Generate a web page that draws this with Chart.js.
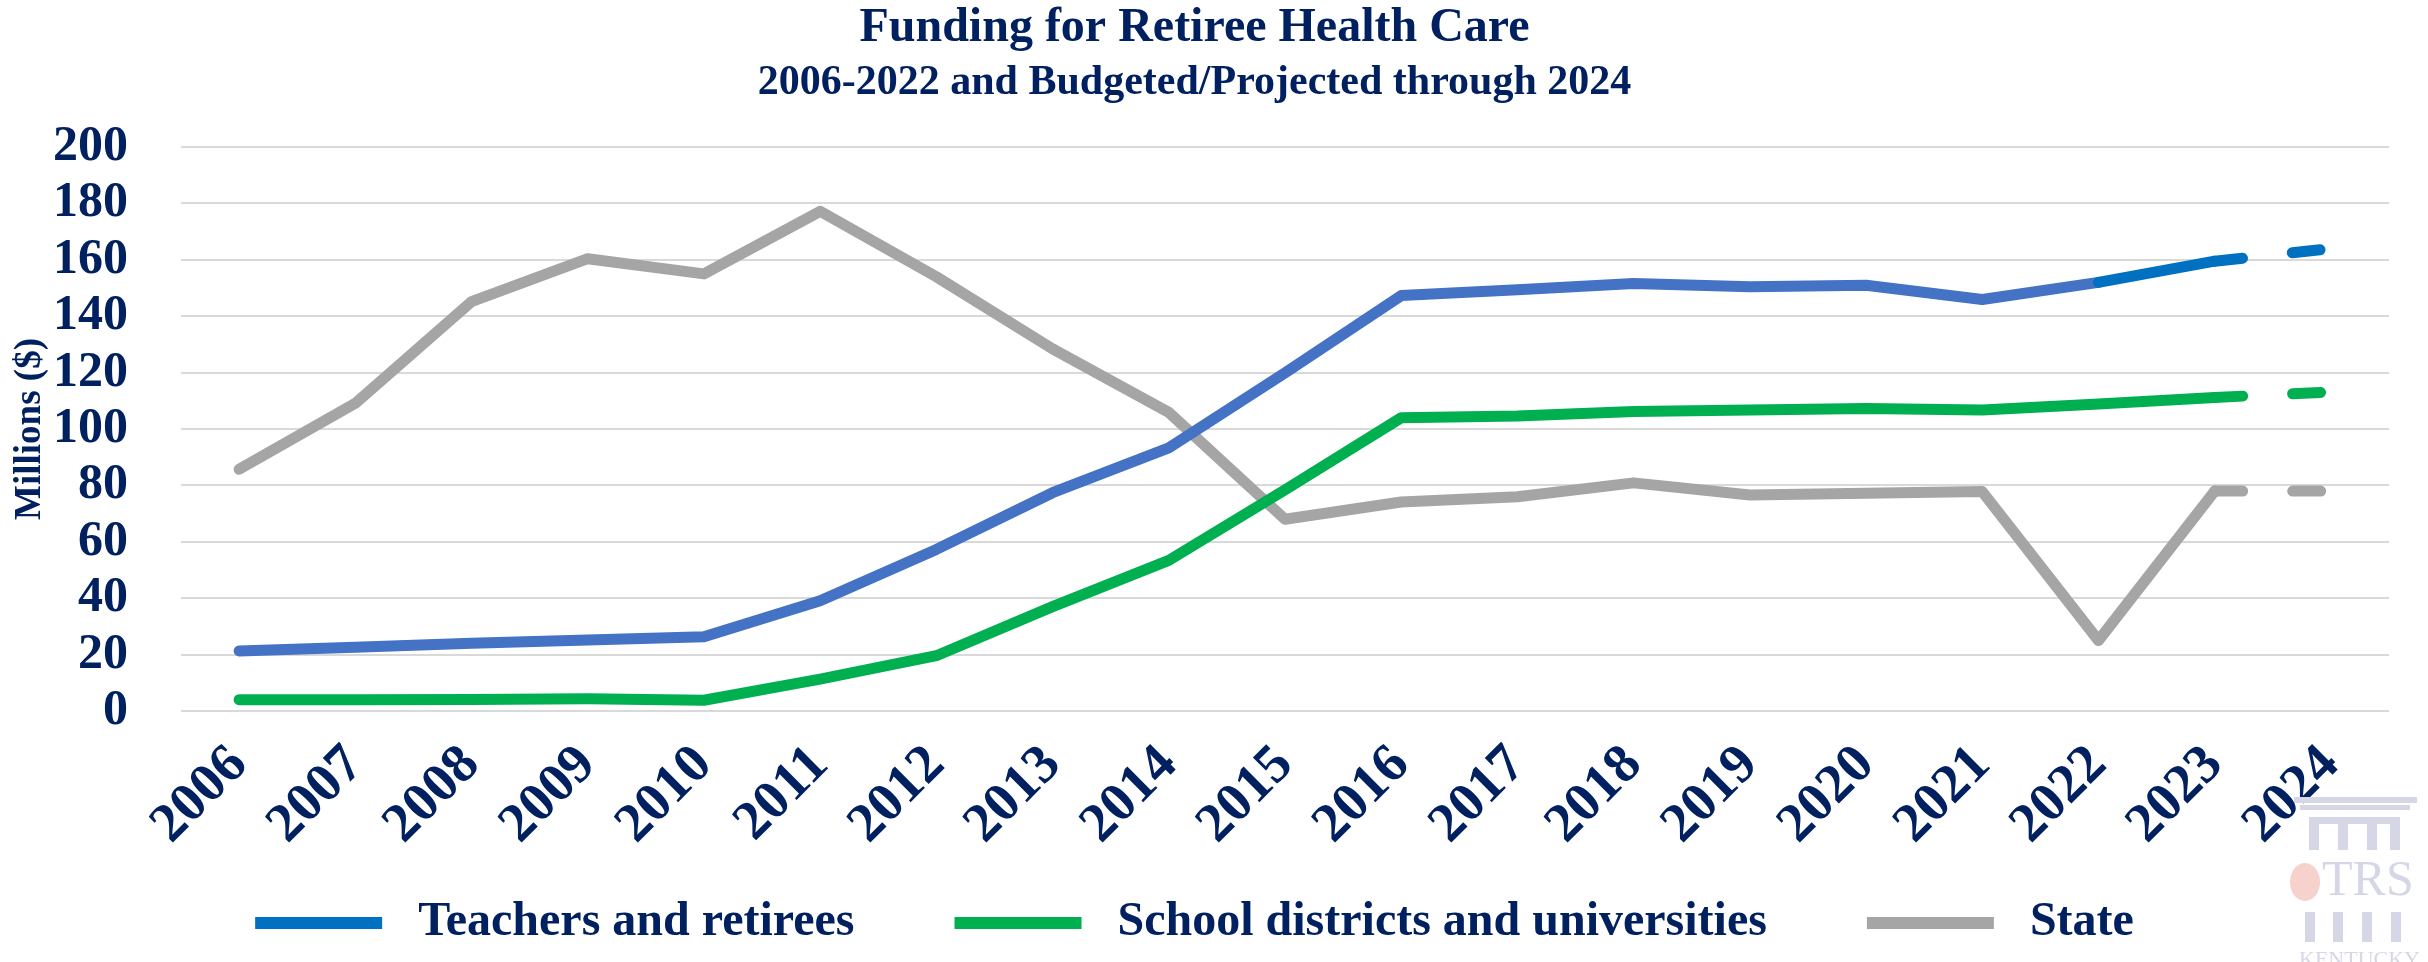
<!DOCTYPE html>
<html>
<head>
<meta charset="utf-8">
<title>Funding for Retiree Health Care</title>
<script src="https://cdn.jsdelivr.net/npm/chart.js@4.4.0/dist/chart.umd.min.js"></script>
<style>
  html, body { margin: 0; padding: 0; background: #fff; }
  #wrap { position: relative; width: 2428px; height: 962px; }
</style>
</head>
<body>
<div id="wrap"><canvas id="retireeChart"></canvas></div>
<script>
// values in millions of dollars
const years = ['2006', '2007', '2008', '2009', '2010', '2011', '2012', '2013', '2014', '2015',
  '2016', '2017', '2018', '2019', '2020', '2021', '2022', '2023', '2024'];
const teachersData = [21.3, 22.6, 24.0, 25.2, 26.3, 39.1, 57.3, 77.4, 93.3, 119.9,
  147.3, 149.4, 151.6, 150.4, 151.0, 145.9, 152.0, 159.5, 164.0];
const schoolData = [4.0, 4.0, 4.1, 4.3, 3.8, 11.3, 19.6, 37.0, 53.4, 78.4,
  104.0, 104.6, 106.2, 106.7, 107.3, 106.7, 108.9, 111.2, 113.1];
const stateData = [85.7, 109.1, 145.2, 160.4, 155.0, 177.2, 154.0, 128.4, 105.9, 68.0,
  74.1, 76.0, 80.9, 76.6, 77.2, 77.8, 25.0, 78.0, 78.0];
const seriesNames = ['Teachers and retirees', 'School districts and universities', 'State'];

const navy = '#002060';
const serif = "'Liberation Serif', 'Times New Roman', serif";
const legendColors = ['#0070C0', '#00B050', '#A5A5A5'];

const lastActual = 16;    // 2022, blue turns darker from here
const projectedFrom = 17; // 2023 -> 2024 is dashed

function dashed(ctx) {
  return ctx.p0DataIndex >= projectedFrom ? [28, 50] : undefined;
}

// faint TRS Kentucky logo in the bottom right corner
const watermark = {
  id: 'watermark',
  afterDraw(chart) {
    const c = chart.ctx;
    c.save();
    c.fillStyle = '#D6D7E6';
    c.fillRect(2294, 797, 123, 6);
    c.fillRect(2300, 805, 110, 5);
    c.fillRect(2309, 817, 91, 7);
    [2309, 2338, 2367, 2390].forEach(x => c.fillRect(x, 817, 10, 33));
    [2305, 2333, 2362, 2391].forEach(x => c.fillRect(x, 912, 10, 30));
    c.font = "50px " + serif;
    c.textAlign = 'left';
    c.textBaseline = 'alphabetic';
    c.fillText('TRS', 2322, 895);
    c.font = "22px " + serif;
    c.fillText('KENTUCKY', 2299, 966);
    c.fillStyle = 'rgba(240, 165, 155, 0.5)';
    c.beginPath();
    c.ellipse(2305, 882, 15, 19, 0, 0, Math.PI * 2);
    c.fill();
    c.restore();
  }
};

new Chart(document.getElementById('retireeChart'), {
  type: 'line',
  data: {
    labels: years,
    datasets: [
      {
        label: seriesNames[0],
        data: teachersData,
        borderColor: '#4472C4',
        backgroundColor: legendColors[0],
        segment: {
          borderColor: ctx => ctx.p0DataIndex >= lastActual ? '#0070C0' : undefined,
          borderDash: dashed
        }
      },
      {
        label: seriesNames[1],
        data: schoolData,
        borderColor: '#00B050',
        backgroundColor: legendColors[1],
        segment: { borderDash: dashed }
      },
      {
        label: seriesNames[2],
        data: stateData,
        borderColor: '#A5A5A5',
        backgroundColor: legendColors[2],
        segment: { borderDash: dashed }
      }
    ]
  },
  options: {
    responsive: true,
    maintainAspectRatio: false,
    devicePixelRatio: 1,
    animation: false,
    layout: { padding: { left: 0, right: 39, top: 0, bottom: 5 } },
    elements: {
      point: { radius: 0 },
      line: { borderWidth: 11, borderCapStyle: 'round', borderJoinStyle: 'round', tension: 0 }
    },
    plugins: {
      tooltip: { enabled: false },
      title: {
        display: true,
        text: 'Funding for Retiree Health Care',
        color: navy,
        font: { family: serif, size: 48, weight: 'bold' },
        padding: { top: 0, bottom: 0 }
      },
      subtitle: {
        display: true,
        text: '2006-2022 and Budgeted/Projected through 2024',
        color: navy,
        font: { family: serif, size: 42, weight: 'bold' },
        padding: { top: 0, bottom: 39 }
      },
      legend: {
        position: 'bottom',
        labels: {
          color: navy,
          font: { family: serif, size: 48, weight: 'bold' },
          boxWidth: 127,
          boxHeight: 12,
          padding: 28,
          generateLabels(chart) {
            const last = chart.data.datasets.length - 1;
            return chart.data.datasets.map((ds, i) => ({
              // spaces widen the gaps the way the original legend is spread out
              text: ' ' + ds.label + (i < last ? '      ' : ''),
              fillStyle: legendColors[i],
              strokeStyle: legendColors[i],
              lineWidth: 0,
              hidden: false,
              datasetIndex: i,
              fontColor: navy
            }));
          }
        }
      }
    },
    scales: {
      x: {
        offset: true,
        grid: { display: false },
        border: { display: false },
        ticks: {
          color: navy,
          font: { family: serif, size: 55, weight: 'bold' },
          minRotation: 45,
          maxRotation: 45,
          autoSkip: false,
          padding: 14
        },
        afterFit(scale) { scale.height = 160; }
      },
      y: {
        min: 0,
        max: 200,
        border: { display: false },
        grid: { color: '#D9D9D9', lineWidth: 2, drawTicks: false },
        ticks: {
          stepSize: 20,
          autoSkip: false,
          color: navy,
          font: { family: serif, size: 50, weight: 'bold' },
          padding: 53
        },
        title: {
          display: true,
          text: 'Millions ($)',
          color: navy,
          font: { family: serif, size: 37, weight: 'bold' },
          padding: { top: 8, bottom: 0 }
        },
        afterFit(scale) { scale.width = 181; }
      }
    }
  },
  plugins: [watermark]
});
</script>
</body>
</html>
